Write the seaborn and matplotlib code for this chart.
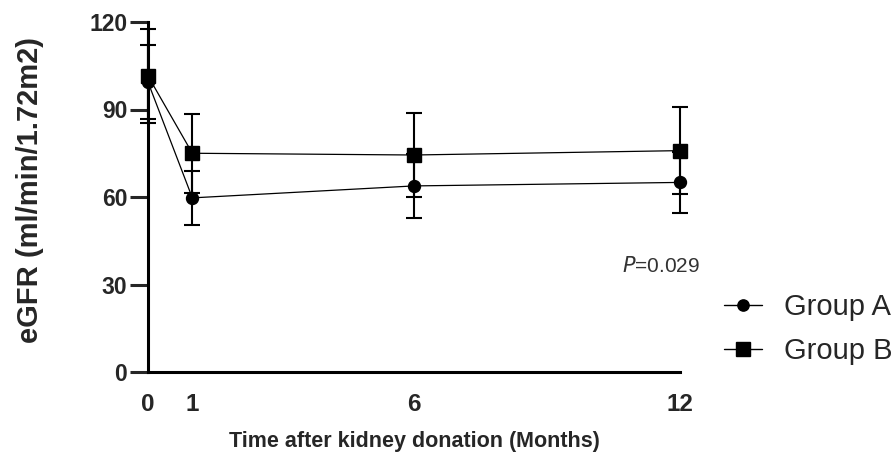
import matplotlib
matplotlib.use("Agg")
import matplotlib.pyplot as plt
import seaborn as sns
import pandas as pd
from matplotlib.lines import Line2D

months = [0, 1, 6, 12]
group_a_mean = [99.4, 59.7, 63.8, 65.0]
group_a_sd = [12.8, 9.2, 11.0, 10.5]
group_b_mean = [101.5, 75.0, 74.4, 75.9]
group_b_sd = [16.1, 13.5, 14.5, 15.0]
groups = ["Group A", "Group B"]
y_ticks = [0, 30, 60, 90, 120]
x_ticks = [0, 1, 6, 12]

sns.set_theme(style="ticks")
plt.rcParams["font.family"] = ["Liberation Sans", "DejaVu Sans"]

df = pd.DataFrame({
    "month": months * 2,
    "egfr": group_a_mean + group_b_mean,
    "sd": group_a_sd + group_b_sd,
    "group": [groups[0]] * 4 + [groups[1]] * 4,
})

fig = plt.figure(figsize=(8.95, 4.53), dpi=100)
ax = fig.add_axes([148 / 895, 1 - 372 / 453, (680 - 148) / 895, (372 - 22) / 453])

markers = {"Group A": "o", "Group B": "s"}
sizes = {"Group A": 8.6, "Group B": 10.6}

for g in groups:
    sub = df[df["group"] == g]
    ax.errorbar(sub["month"], sub["egfr"], yerr=sub["sd"], fmt="none",
                ecolor="black", elinewidth=1.5, capsize=5.5, capthick=1.5,
                clip_on=False, zorder=2)

sns.lineplot(data=df, x="month", y="egfr", style="group", markers=False,
             dashes=False, color="black", linewidth=0.9,
             legend=False, ax=ax, zorder=3)
for g in groups:
    sub = df[df["group"] == g]
    ax.plot(sub["month"], sub["egfr"], linestyle="none", marker=markers[g],
            markersize=sizes[g], color="black", clip_on=False, zorder=4)
for ln in ax.lines:
    ln.set_clip_on(False)

ax.set_xlim(0, 12)
ax.set_ylim(0, 120)
ax.set_xticks(x_ticks)
ax.set_yticks(y_ticks)
ax.tick_params(axis="y", length=13, width=2.2, direction="out", labelsize=16.5, pad=2)
ax.tick_params(axis="x", length=0, labelsize=17.5, pad=15)
for lab in ax.get_xticklabels() + ax.get_yticklabels():
    lab.set_fontweight("bold")
sns.despine(ax=ax)
for s in ["left", "bottom"]:
    ax.spines[s].set_linewidth(2.2)
    ax.spines[s].set_color("black")

ax.set_xlabel("Time after kidney donation (Months)", fontsize=15.5,
              fontweight="bold")
ax.xaxis.set_label_coords(0.5, (372 - 431) / 350)
ax.set_ylabel("eGFR (ml/min/1.72m2)", fontsize=21, fontweight="bold")
ax.yaxis.set_label_coords((44 - 148) / 532, (372 - 190) / 350)

fig.text(661 / 895, 1 - 266 / 453, r"$\mathit{P}$=0.029", fontsize=15,
         color="#333333", ha="center", va="center")

handles = [Line2D([0], [0], color="black", linewidth=1.0, marker=markers[g],
                  markersize=sizes[g] - 0.5) for g in groups]
fig.legend(handles, groups, loc="center left",
           bbox_to_anchor=(724 / 895, 1 - 329 / 453), frameon=False,
           fontsize=21, handlelength=1.3, handletextpad=0.75,
           labelspacing=0.55, borderpad=0, borderaxespad=0)

fig.savefig("out.png", dpi=100)
